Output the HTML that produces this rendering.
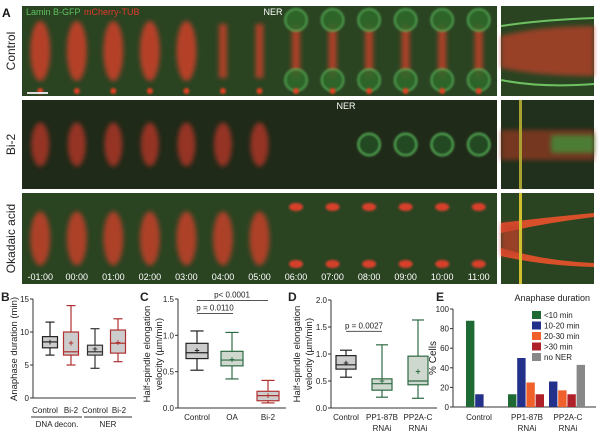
<!DOCTYPE html>
<html><head><meta charset="utf-8"><style>
html,body{margin:0;padding:0;background:#fff;}
svg{display:block;font-family:"Liberation Sans",sans-serif;}
</style></head><body>
<svg id="fig" width="600" height="433" viewBox="0 0 600 433" xmlns="http://www.w3.org/2000/svg">
<defs>
<filter id="blur2" x="-50%" y="-50%" width="200%" height="200%"><feGaussianBlur stdDeviation="2.5"/></filter>
<filter id="blur1" x="-50%" y="-50%" width="200%" height="200%"><feGaussianBlur stdDeviation="1"/></filter>
</defs>
<g id="panelA"></g>
<g id="charts"></g>
</svg>
<script>
// ===== data =====
const frameLabels = ["-01:00","00:00","01:00","02:00","03:00","04:00","05:00","06:00","07:00","08:00","09:00","10:00","11:00"];
const bCats = ["Control","Bi-2","Control","Bi-2"];
const bWhiskLo = [6.5,5,4.5,5.5];
const bQ1 = [7.6,6.5,6.5,6.8];
const bMed = [8.5,7,7,8.3];
const bQ3 = [9.3,10,8,10.3];
const bWhiskHi = [11.5,14,10.5,12];
const bMean = [8.5,8.3,7.4,8.4];
const bTicks = [0,5,10,15];
const cCats = ["Control","OA","Bi-2"];
const cWhiskLo = [0.52,0.4,0.07];
const cQ1 = [0.68,0.58,0.1];
const cMed = [0.76,0.66,0.17];
const cQ3 = [0.89,0.78,0.23];
const cWhiskHi = [1.06,1.04,0.38];
const cMean = [0.79,0.67,0.17];
const cTicks = [0,0.5,1.0,1.5];
const dCats = ["Control","PP1-87B","PP2A-C"];
const dWhiskLo = [0.57,0.2,0.18];
const dQ1 = [0.72,0.33,0.43];
const dMed = [0.8,0.45,0.5];
const dQ3 = [0.97,0.54,0.96];
const dWhiskHi = [1.07,1.17,1.63];
const dMean = [0.83,0.5,0.68];
const dTicks = [0,0.5,1.0,1.5,2.0];
const eCats = ["Control","PP1-87B","PP2A-C"];
const eSeries = ["<10 min","10-20 min","20-30 min",">30 min","no NER"];
const eLt10 = [88,13,0];
const e10to20 = [13,50,26];
const e20to30 = [0,25,17];
const eGt30 = [0,13,13];
const eNoNER = [0,0,43];
const eTicks = [0,20,40,60,80,100];

const NS="http://www.w3.org/2000/svg";
function mk(parent,tag,attrs,text){const e=document.createElementNS(NS,tag);for(const k in attrs)e.setAttribute(k,attrs[k]);if(text!==undefined)e.textContent=text;parent.appendChild(e);return e;}

// ===== Panel A =====
const A=document.getElementById('panelA');
const rows=[{y:6,h:90,name:"control-row",label:"Control"},{y:100,h:89,name:"bi2-row",label:"Bi-2"},{y:193,h:91,name:"okadaic-row",label:"Okadaic acid"}];
const sx=22, sw=475, fw=sw/13;
rows.forEach((r,ri)=>{
  const g=mk(A,'g',{});
  
  
  mk(g,'rect',{x:sx,y:r.y,width:sw,height:r.h,fill:ri==1?'#1f2a18':'#2a4422'});
  for(let i=0;i<13;i++){
    const cx=sx+fw*(i+0.5), cy=r.y+r.h/2;
    if(ri==0){
      if(i<5){mk(g,'ellipse',{cx:cx,cy:cy,rx:10,ry:30,fill:'#d8402a',opacity:0.8,filter:'url(#blur2)'});}
      else{mk(g,'rect',{x:cx-4,y:r.y+18,width:8,height:r.h-36,fill:'#d8402a',opacity:0.75,filter:'url(#blur2)'});}
      if(i>=7){[r.y+14,r.y+r.h-16].forEach(yy=>{mk(g,'circle',{cx:cx,cy:yy,r:11,fill:'#2f6a2c',stroke:'#5fc060','stroke-width':1.5,opacity:0.85,filter:'url(#blur1)'});});}
      mk(g,'circle',{cx:cx,cy:r.y+r.h-5,r:3,fill:'#e04020',filter:'url(#blur1)'});
    } else if(ri==1){
      if(i<7){mk(g,'ellipse',{cx:cx,cy:cy,rx:9,ry:22,fill:'#c8382a',opacity:0.7,filter:'url(#blur2)'});}
      if(i>=9){mk(g,'circle',{cx:cx,cy:cy,r:11,fill:'#244a22',stroke:'#5fc060','stroke-width':1.5,filter:'url(#blur1)'});}
    } else {
      if(i<7){mk(g,'ellipse',{cx:cx,cy:cy,rx:10,ry:27,fill:'#d8402a',opacity:0.75,filter:'url(#blur2)'});}
      else{[r.y+14,r.y+r.h-20].forEach(yy=>mk(g,'ellipse',{cx:cx,cy:yy,rx:7,ry:4,fill:'#d8402a',filter:'url(#blur1)'}));}
    }
  }
  const lt=mk(A,'text',{x:0,y:0,'font-size':12,fill:'#222','text-anchor':'middle',transform:`translate(15,${r.y+r.h/2}) rotate(-90)`},r.label);
  
  const k=mk(A,'g',{});
  
  mk(k,'rect',{x:501,y:r.y,width:93,height:r.h,fill:ri==1?'#20301c':'#2a4422'});
  if(ri==0){mk(k,'path',{d:`M501 ${r.y+30} Q540 ${r.y+20} 594 ${r.y+20} L594 ${r.y+70} Q540 ${r.y+70} 501 ${r.y+62} Z`,fill:'#c8402a',opacity:0.7,filter:'url(#blur2)'});
    mk(k,'path',{d:`M501 ${r.y+20} Q540 ${r.y+14} 594 ${r.y+12}`,stroke:'#6ec060','stroke-width':2,fill:'none'});
    mk(k,'path',{d:`M501 ${r.y+74} Q540 ${r.y+82} 594 ${r.y+78}`,stroke:'#6ec060','stroke-width':2,fill:'none'});}
  if(ri==1){mk(k,'rect',{x:501,y:r.y+30,width:93,height:30,fill:'#9a3a22',opacity:0.7,filter:'url(#blur2)'});mk(k,'rect',{x:551,y:r.y+35,width:43,height:18,fill:'#3e9a3e',opacity:0.7,filter:'url(#blur2)'});mk(k,'rect',{x:519,y:r.y,width:3,height:r.h,fill:'#a8a030'});}
  if(ri==2){mk(k,'path',{d:`M501 ${r.y+30} Q540 ${r.y+25} 594 ${r.y+20} L594 ${r.y+24} Q545 ${r.y+30} 501 ${r.y+40} Z`,fill:'#d8502a'});mk(k,'path',{d:`M501 ${r.y+55} Q545 ${r.y+68} 594 ${r.y+70} L594 ${r.y+74} Q545 ${r.y+73} 501 ${r.y+63} Z`,fill:'#d8502a'});mk(k,'rect',{x:501,y:r.y+30,width:20,height:33,fill:'#c8402a',opacity:0.7,filter:'url(#blur2)'});mk(k,'rect',{x:519,y:r.y,width:3,height:r.h,fill:'#d0c030'});}
});
frameLabels.forEach((t,i)=>{const e=mk(A,'text',{x:sx+fw*(i+0.5),y:280,'font-size':9,fill:'#fff','text-anchor':'middle'},t);});
{let e=mk(A,'text',{x:2,y:17,'font-size':12,'font-weight':'bold',fill:'#111'},'A');}
{let e=mk(A,'text',{x:26,y:15,'font-size':9,fill:'#5fc060'},'Lamin B-GFP');
 e=mk(A,'text',{x:84,y:15,'font-size':9,fill:'#e03a2a'},'mCherry-TUB');
 e=mk(A,'text',{x:273,y:15,'font-size':9,fill:'#fff','text-anchor':'middle'},'NER');
 e=mk(A,'text',{x:346,y:109,'font-size':9,fill:'#fff','text-anchor':'middle'},'NER');
 e=mk(A,'rect',{x:27,y:92,width:21,height:2,fill:'#ddd'});}

// ===== Charts =====
const C=document.getElementById('charts');
function txt(p,x,y,s,t,anchor,name,extra){const e=mk(p,'text',Object.assign({x:x,y:y,'font-size':s,fill:'#222','text-anchor':anchor||'middle'},extra||{}),t);return e;}
function boxChart(o){
  const g=mk(C,'g',{});
  
  const ys=v=>o.y0-(v-o.min)/(o.max-o.min)*(o.y0-o.y1);
  mk(g,'line',{x1:o.ax,y1:o.y1,x2:o.ax,y2:o.y0,stroke:'#333','stroke-width':1});
  mk(g,'line',{x1:o.ax,y1:o.y0,x2:o.xEnd,y2:o.y0,stroke:'#333','stroke-width':1});
  o.ticks.forEach(t=>{mk(g,'line',{x1:o.ax-3,y1:ys(t),x2:o.ax,y2:ys(t),stroke:'#333'});txt(g,o.ax-4,ys(t)+3,8,o.fmt(t),'end','y-tick');});
  o.lo.forEach((_,i)=>{
    const x=o.xs[i],w=o.bw,col=o.cols[i];
    const b=mk(g,'g',{});
    mk(b,'line',{x1:x,y1:ys(o.lo[i]),x2:x,y2:ys(o.hi[i]),stroke:col,'stroke-width':1.2});
    mk(b,'line',{x1:x-w*0.3,y1:ys(o.lo[i]),x2:x+w*0.3,y2:ys(o.lo[i]),stroke:col,'stroke-width':1.2});
    mk(b,'line',{x1:x-w*0.3,y1:ys(o.hi[i]),x2:x+w*0.3,y2:ys(o.hi[i]),stroke:col,'stroke-width':1.2});
    mk(b,'rect',{x:x-w/2,y:ys(o.q3[i]),width:w,height:ys(o.q1[i])-ys(o.q3[i]),fill:o.fills[i],stroke:col,'stroke-width':1.2});
    mk(b,'line',{x1:x-w/2,y1:ys(o.med[i]),x2:x+w/2,y2:ys(o.med[i]),stroke:col,'stroke-width':1.2});
    txt(b,x,ys(o.mean[i])+3,9,'+','middle','mean-marker',{fill:col,'font-weight':'bold'});
  });
  return ys;
}
// B
const ysB=boxChart({name:'panel-b-chart',ax:33,y0:398,y1:299,min:0,max:15,xEnd:136,ticks:bTicks,fmt:t=>String(t),xs:[50,71,95,118],bw:15,
 lo:bWhiskLo,q1:bQ1,med:bMed,q3:bQ3,hi:bWhiskHi,mean:bMean,cols:['#222','#b03030','#333','#b03030'],fills:['#ccc','#ccc','#ccc','#ccc']});
bCats.forEach((c,i)=>txt(C,[45,71,95,119][i],413,8,c,'middle','x-label-b'));
mk(C,'line',{x1:31,y1:417,x2:82,y2:417,stroke:'#333'});mk(C,'line',{x1:84,y1:417,x2:132,y2:417,stroke:'#333'});
txt(C,57,427,8,'DNA decon.','middle','group-label-dna');txt(C,108,427,8,'NER','middle','group-label-ner');
txt(C,0,0,9.5,'Anaphase duration (min)','middle','y-axis-title-b',{transform:'translate(17,349) rotate(-90)'});
txt(C,1,301,12,'B','start','panel-letter-b',{'font-weight':'bold'});
// C
const ysC=boxChart({name:'panel-c-chart',ax:178,y0:408,y1:299,min:0,max:1.5,xEnd:286,ticks:cTicks,fmt:t=>t.toFixed(1),xs:[197,232,268],bw:22,
 lo:cWhiskLo,q1:cQ1,med:cMed,q3:cQ3,hi:cWhiskHi,mean:cMean,cols:['#222','#2e6a44','#b03030'],fills:['#ccc','#cfd8cf','#ccc']});
cCats.forEach((c,i)=>txt(C,[197,232,268][i],420,8,c,'middle','x-label-c'));
mk(C,'line',{x1:197,y1:ysC(1.3),x2:233,y2:ysC(1.3),stroke:'#555'});txt(C,215,ysC(1.3)-3,8,'p = 0.0110','middle','pvalue-c1');
mk(C,'line',{x1:197,y1:ysC(1.48),x2:268,y2:ysC(1.48),stroke:'#555'});txt(C,232,ysC(1.48)-3,8,'p< 0.0001','middle','pvalue-c2');
txt(C,0,0,9.5,'Half-spindle elongation','middle','y-axis-title-c1',{transform:'translate(150,354) rotate(-90)'});
txt(C,0,0,9.5,'velocity (µm/min)','middle','y-axis-title-c2',{transform:'translate(162,354) rotate(-90)'});
txt(C,140,301,12,'C','start','panel-letter-c',{'font-weight':'bold'});
// D
const ysD=boxChart({name:'panel-d-chart',ax:331,y0:408,y1:300,min:0,max:2.0,xEnd:437,ticks:dTicks,fmt:t=>t.toFixed(1),xs:[346,382,418],bw:20,
 lo:dWhiskLo,q1:dQ1,med:dMed,q3:dQ3,hi:dWhiskHi,mean:dMean,cols:['#222','#2e6a44','#2e6a44'],fills:['#ccc','#cfd8cf','#cfd8cf']});
dCats.forEach((c,i)=>txt(C,[346,382,418][i],420,8,c,'middle','x-label-d'));
txt(C,382,431,8,'RNAi','middle','x-label-d-rnai');txt(C,418,431,8,'RNAi','middle','x-label-d-rnai');
mk(C,'line',{x1:346,y1:ysD(1.42),x2:382,y2:ysD(1.42),stroke:'#555'});txt(C,364,ysD(1.42)-3,8,'p = 0.0027','middle','pvalue-d');
txt(C,0,0,9.5,'Half-spindle elongation','middle','y-axis-title-d1',{transform:'translate(300,354) rotate(-90)'});
txt(C,0,0,9.5,'velocity (µm/min)','middle','y-axis-title-d2',{transform:'translate(312,354) rotate(-90)'});
txt(C,288,301,12,'D','start','panel-letter-d',{'font-weight':'bold'});
// E
{
 const g=mk(C,'g',{});
 const ax=453,y0=407,y1=309;const ys=v=>y0-v/100*(y0-y1);
 mk(g,'line',{x1:ax,y1:y1,x2:ax,y2:y0,stroke:'#333'});mk(g,'line',{x1:ax,y1:y0,x2:596,y2:y0,stroke:'#333'});
 eTicks.forEach(t=>{mk(g,'line',{x1:ax-3,y1:ys(t),x2:ax,y2:ys(t),stroke:'#333'});txt(g,ax-4,ys(t)+3,8,String(t),'end','y-tick-e');});
 const series=[eLt10,e10to20,e20to30,eGt30,eNoNER];
 const cols=['#1f6a34','#23318a','#f0602a','#b02028','#888'];
 const gx=[466,508,549],bw=9.2;
 eCats.forEach((c,ci)=>{
  series.forEach((s,si)=>{
   if(s[ci]<=0)return;
   const r=mk(g,'rect',{x:gx[ci]+si*bw-(ci==2?bw:0),y:ys(s[ci]),width:bw-0.8,height:y0-ys(s[ci]),fill:cols[si]});
   
  });
  txt(g,[479,527,568][ci],420,8,c,'middle','x-label-e');
  if(ci>0)txt(g,[479,527,568][ci],431,8,'RNAi','middle','x-label-e-rnai');
 });
 txt(g,0,0,10,'% Cells','middle','y-axis-title-e',{transform:'translate(436,358) rotate(-90)'});
 txt(g,590,301,9,'Anaphase duration','end','legend-title');
 eSeries.forEach((s,i)=>{
  const le=mk(g,'g',{});
  mk(le,'rect',{x:532,y:311+i*10.5,width:9,height:8,fill:cols[i]});
  txt(le,544,318+i*10.5,8,s,'start','legend-label');
 });
 txt(C,436,301,12,'E','start','panel-letter-e',{'font-weight':'bold'});
}
</script>
</body></html>
